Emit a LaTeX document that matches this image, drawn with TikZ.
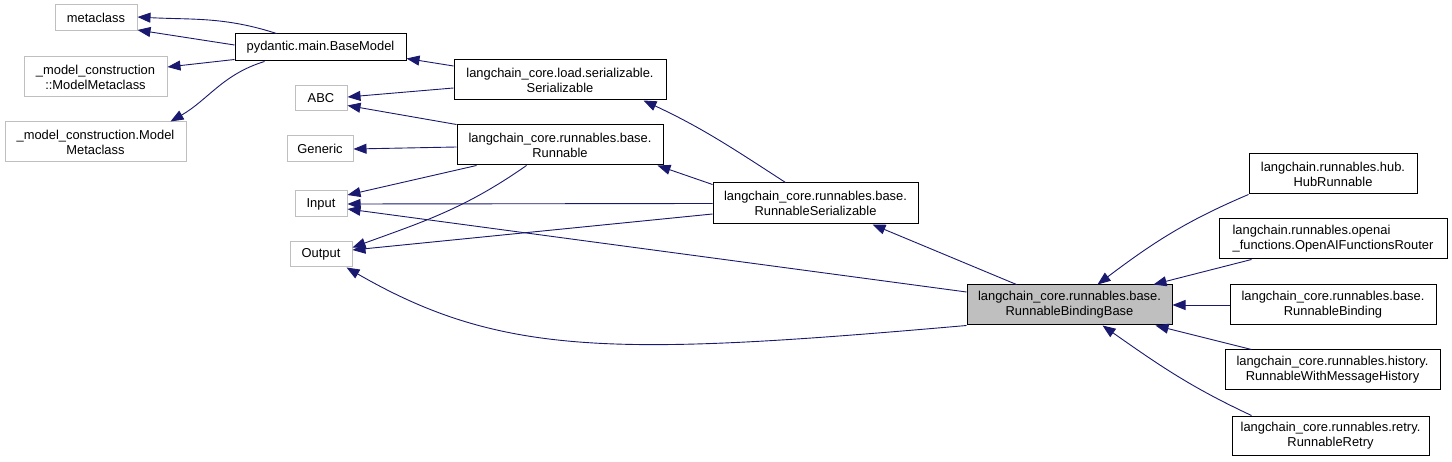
\documentclass[tikz,border=0pt]{standalone}
\usepackage{fontspec}
\setmainfont{Liberation Sans}
\usetikzlibrary{arrows.meta}
\definecolor{edgeblue}{HTML}{191970}
\definecolor{boxgray}{HTML}{BFBFBF}
\tikzset{
  cls/.style={draw=black, line width=1pt, inner sep=0pt, align=center,
    font=\fontsize{12.9}{15}\selectfont},
  ext/.style={cls, draw=boxgray},
  focus/.style={cls, fill=boxgray},
  inh/.style={draw=edgeblue, line width=0.9pt, -{Triangle[length=13pt,width=10pt]}}
}
\begin{document}
\begin{tikzpicture}[x=1pt,y=1pt]
    \useasboundingbox (0,0) rectangle (1452,-462);
    \fill[white] (0,0) rectangle (1452,-462);

    % Outside classes on the left
    \node[ext, minimum width=82pt, minimum height=26pt] (metaclass) at (96,-18) {metaclass};
    \node[ext, minimum width=143pt, minimum height=40pt] (mmc1) at (95.5,-77) {\_model\_construction\\::ModelMetaclass};
    \node[ext, minimum width=181pt, minimum height=40pt] (mmc2) at (95.5,-142) {\_model\_construction.Model\\Metaclass};
    \node[ext, minimum width=52pt, minimum height=25pt] (abc) at (321,-98.5) {ABC};
    \node[ext, minimum width=66pt, minimum height=26pt] (generic) at (320,-149) {Generic};
    \node[ext, minimum width=52pt, minimum height=26pt] (input) at (321,-204) {Input};
    \node[ext, minimum width=62pt, minimum height=25pt] (output) at (321,-254.5) {Output};

    % Base classes
    \node[cls, minimum width=171pt, minimum height=27pt] (bm) at (320.5,-47.5) {pydantic.main.BaseModel};
    \node[cls, minimum width=212pt, minimum height=40pt] (ser) at (560,-80) {langchain\_core.load.serializable.\\Serializable};
    \node[cls, minimum width=206pt, minimum height=40pt] (run) at (560,-145) {langchain\_core.runnables.base.\\Runnable};
    \node[cls, minimum width=205pt, minimum height=41pt] (rser) at (815.5,-203.5) {langchain\_core.runnables.base.\\RunnableSerializable};
    \node[focus, minimum width=205pt, minimum height=40pt] (rbb) at (1069.5,-305) {langchain\_core.runnables.base.\\RunnableBindingBase};

    % Derived classes on the right
    \node[cls, minimum width=168pt, minimum height=40pt] (hub) at (1333,-174) {langchain.runnables.hub.\\HubRunnable};
    \node[cls, minimum width=228pt, minimum height=40pt, align=left] (oai) at (1333,-239) {langchain.runnables.openai\\\_functions.OpenAIFunctionsRouter};
    \node[cls, minimum width=206pt, minimum height=40pt] (rb) at (1333,-305) {langchain\_core.runnables.base.\\RunnableBinding};
    \node[cls, minimum width=215pt, minimum height=40pt] (hist) at (1332.5,-370) {langchain\_core.runnables.history.\\RunnableWithMessageHistory};
    \node[cls, minimum width=197pt, minimum height=39pt] (retry) at (1330.5,-435.5) {langchain\_core.runnables.retry.\\RunnableRetry};

    % pydantic
    \draw[inh] ([xshift=42pt]bm.north west) to[out=162,in=-3] ([yshift=1pt]metaclass.east);
    \draw[inh] ([yshift=2.5pt]bm.west) -- ([yshift=-12pt]metaclass.east);
    \draw[inh] ([yshift=2pt]bm.south west) -- ([yshift=10pt]mmc1.east);
    \draw[inh] ([xshift=30pt]bm.south west) to[out=197,in=30] ([xshift=-16pt]mmc2.north east);

    % serializable and runnable
    \draw[inh] ([yshift=14pt]ser.west) -- ([yshift=3pt]bm.south east);
    \draw[inh] ([yshift=-8pt]ser.west) -- ([yshift=1.5pt]abc.east);
    \draw[inh] (run.north west) -- ([yshift=-7pt]abc.east);
    \draw[inh] ([yshift=-2pt]run.west) -- (generic.east);
    \draw[inh] ([xshift=20pt]run.south west) -- ([yshift=9pt]input.east);
    \draw[inh] ([xshift=70pt]run.south west) to[out=215,in=20] ([yshift=7pt]output.east);

    % runnable serializable
    \draw[inh] ([xshift=73pt]rser.north west) to[out=147,in=-25] ([xshift=-23pt]ser.south east);
    \draw[inh] ([yshift=-2pt]rser.north west) -- ([xshift=-6pt]run.south east);
    \draw[inh] (rser.west) -- (input.east);
    \draw[inh] ([yshift=-10.5pt]rser.west) -- ([yshift=4.5pt]output.east);

    % binding base
    \draw[inh] ([yshift=13pt]rbb.west) -- ([yshift=-5pt]input.east);
    \draw[inh] (rbb.south west) to[out=185,in=-30,out distance=350pt,in distance=180pt] ([xshift=-6pt]output.south east);
    \draw[inh] ([xshift=50pt]rbb.north west) -- ([xshift=160pt]rser.south west);

    % subclasses of the binding base
    \draw[inh] (hub.south west) to[out=203,in=37] ([xshift=-75pt]rbb.north east);
    \draw[inh] ([xshift=33pt]oai.south west) -- ([xshift=-19pt]rbb.north east);
    \draw[inh] (rb.west) -- (rbb.east);
    \draw[inh] ([xshift=27pt]hist.north west) -- ([xshift=-17pt]rbb.south east);
    \draw[inh] ([xshift=20pt]retry.north west) to[out=155,in=-35] ([xshift=-70pt]rbb.south east);
\end{tikzpicture}
\end{document}
